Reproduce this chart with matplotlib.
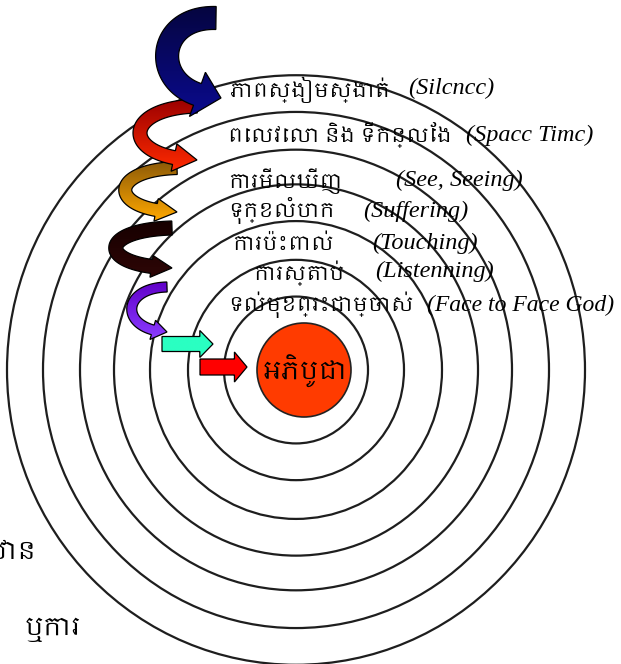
import numpy as np
import matplotlib
matplotlib.use('Agg')
import matplotlib.pyplot as plt
from matplotlib import font_manager
from matplotlib.patches import Circle, Ellipse, Polygon
from matplotlib.colors import LinearSegmentedColormap

# labels from the outer ring to the inner ring
khmer_labels = ['ភាពស្ងៀមស្ងាត់', 'ពេលវេលា និង ទីកន្លែង', 'ការមើលឃើញ', 'ទុក្ខលំបាក',
                'ការប៉ះពាល់', 'ការស្តាប់', 'ទល់មុខព្រះជាម្ចាស់']
english_labels = ['(Silcncc)', '(Spacc Timc)', '(See, Seeing)', '(Suffering)',
                  '(Touching)', '(Listenning)', '(Face to Face God)']
center_label = 'អភិបូជា'
corner_labels = ['ដ្ឋាន', 'ឬការ']
n_rings = 7

# Khmer font if the machine has one, else whatever falls through
khmer_fonts = sorted({f.name for f in font_manager.fontManager.ttflist if 'Khmer' in f.name})
KH = khmer_fonts + ['DejaVu Sans']


def bezier(p, n=80):
    t = np.linspace(0, 1, n)[:, None]
    p = np.asarray(p, float)
    return (1-t)**3*p[0] + 3*(1-t)**2*t*p[1] + 3*(1-t)*t**2*p[2] + t**3*p[3]


def arrow_outline(ctrl, width, head_w, head_len):
    pts = bezier(ctrl)
    s = np.r_[0, np.cumsum(np.hypot(*np.diff(pts, axis=0).T))]
    body = pts[s <= s[-1] - head_len]
    d = np.gradient(body, axis=0)
    d /= np.hypot(d[:, 0], d[:, 1])[:, None]
    nrm = np.c_[-d[:, 1], d[:, 0]]
    left = body + nrm*width/2
    right = body - nrm*width/2
    base, n_ = body[-1], nrm[-1]
    head = np.array([base + n_*head_w/2, pts[-1], base - n_*head_w/2])
    return np.vstack([left, head, right[::-1]])


def draw_arrow(ax, xy, c_top, c_bot, z):
    patch = Polygon(xy, closed=True, facecolor='none', edgecolor='black', lw=0.9, zorder=z+0.5)
    ax.add_patch(patch)
    x0, y0 = xy.min(0)
    x1, y1 = xy.max(0)
    cmap = LinearSegmentedColormap.from_list('g', [c_top, c_bot])
    im = ax.imshow(np.linspace(0, 1, 100)[:, None], cmap=cmap, extent=(x0, x1, y1, y0),
                   aspect='auto', origin='upper', zorder=z, interpolation='bilinear')
    im.set_clip_path(patch)


fig = plt.figure(figsize=(6.21, 6.64), dpi=100)
ax = fig.add_axes([0, 0, 1, 1])
ax.axis('off')

# concentric rings
cx, cy = 296, 370
radii = [289, 253, 216, 182, 146, 108, 72]
for r in radii[:n_rings]:
    ax.add_patch(Ellipse((cx, cy), 2*r, 2*r*1.02, fill=False, ec='#1e1e1e', lw=1.6, zorder=1))

# centre disc
ax.add_patch(Circle((304, 370), 47, fc='#ff3b00', ec='#222222', lw=1.2, zorder=2))
ax.text(305, 372, center_label, family=KH, fontsize=18, ha='center', va='center', zorder=3)

# curly arrows: (control points, width, head width, head length, top colour, bottom colour)
curls = [
    ([(216, 18), (150, 16), (150, 98), (221, 98)], 23, 47, 22, '#05053f', '#0a0a8e'),
    ([(197, 106), (121, 108), (121, 158), (197, 160)], 14, 28, 22, '#9a0000', '#ff2a00'),
    ([(177, 168), (108, 170), (108, 210), (177, 212)], 13, 23, 20, '#8c5a08', '#ffa800'),
    ([(172, 228), (97, 230), (97, 266), (172, 268)], 14, 22, 20, '#160000', '#2e0606'),
    ([(167, 287), (120, 288), (120, 330), (167, 332)], 10, 20, 14, '#6000c8', '#8a3cff'),
]
for i, (ctrl, w, hw, hl, c0, c1) in enumerate(curls):
    draw_arrow(ax, arrow_outline(ctrl, w, hw, hl), c0, c1, 20 - 2*i)

# straight arrows into the centre
draw_arrow(ax, arrow_outline([(162, 344), (180, 344), (195, 344), (213, 344)], 15, 27, 13),
           '#2affc2', '#2affc2', 8)
draw_arrow(ax, arrow_outline([(200, 367), (215, 367), (230, 367), (247, 367)], 16, 30, 12),
           '#ff0000', '#ff0000', 8)

# ring labels
kx = [230, 228, 228, 228, 232, 253, 228]
ky = [90, 135, 181, 211, 245, 273, 305]
ex = [408, 466, 396, 363, 372, 375, 427]
ey = [88, 135, 180, 211, 243, 271, 305]
for i in range(len(khmer_labels)):
    ax.text(kx[i], ky[i], khmer_labels[i], family=KH, fontsize=14.5, style='italic',
            ha='left', va='center', zorder=30)
    es = 17 if i == len(khmer_labels) - 1 else 17.5
    ax.text(ex[i], ey[i], english_labels[i], family='Liberation Serif', style='italic',
            fontsize=es, ha='left', va='center', zorder=30)

# bits of text cut at the left edge, as in the original
ax.text(-30, 553, corner_labels[0], family=KH, fontsize=18, ha='left', va='center')
ax.text(25, 630, corner_labels[1], family=KH, fontsize=18, ha='left', va='center')

ax.set_xlim(0, 621)
ax.set_ylim(664, 0)
fig.savefig('out.png', dpi=100)
